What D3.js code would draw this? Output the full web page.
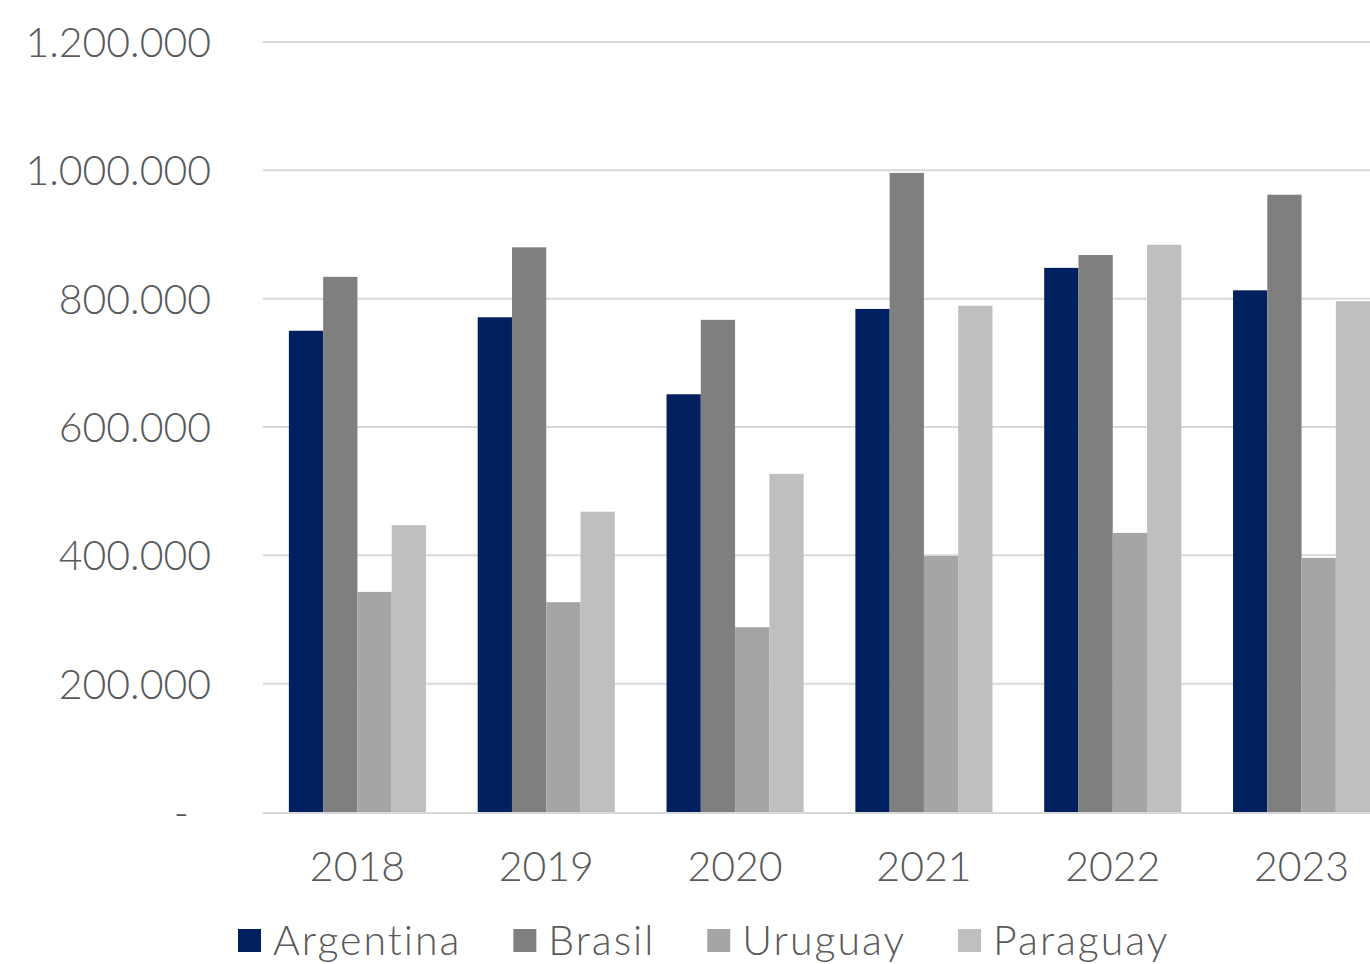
<!DOCTYPE html>
<html><head><meta charset="utf-8">
<script src="https://cdn.jsdelivr.net/npm/d3@7"></script>
<style>
html,body{margin:0;padding:0;background:#fff;overflow:hidden}
text{font-family:"Century Gothic",Lato,"Open Sans",sans-serif;fill:#595959}
</style></head><body>
<svg id="c" width="1370" height="964"></svg>
<script>
const years = ["2018","2019","2020","2021","2022","2023"];
const seriesNames = ["Argentina","Brasil","Uruguay","Paraguay"];
const colors = ["#002060","#7f7f7f","#a5a5a5","#bfbfbf"];
const argentina = [750000,771000,651000,784000,848000,813000];
const brasil = [834000,880000,767000,996000,868000,962000];
const uruguay = [343000,327000,288000,399000,435000,396000];
const paraguay = [447000,468000,527000,789000,884000,796000];
const yTicks = [0,200000,400000,600000,800000,1000000,1200000];
const seriesValues = [argentina,brasil,uruguay,paraguay];

const svg = d3.select("#c");
const fmt = v => v===0 ? "-" : d3.format(",")(v).replace(/,/g,".");
const y = d3.scaleLinear().domain([0,1200000]).range([812,42]);
const x0 = d3.scaleBand().domain(years).range([263,1396]).paddingInner(0.274).paddingOuter(0.137);
const x1 = d3.scaleBand().domain(seriesNames).range([0,x0.bandwidth()]);

// gridlines
svg.append("g").selectAll("line").data(yTicks.filter(d=>d>0)).join("line")
  .attr("x1",263).attr("x2",1370).attr("y1",d=>y(d)).attr("y2",d=>y(d))
  .attr("stroke","#d9d9d9").attr("stroke-width",2);

// y labels
const yAxis = d3.axisLeft(y).tickValues(yTicks).tickFormat(fmt).tickSize(0).tickPadding(0);
const ya = svg.append("g").attr("transform","translate(211,0)").call(yAxis);
ya.select(".domain").remove();
ya.selectAll("text").attr("font-size",41).attr("font-weight",300).style("font-family",'"Century Gothic",Lato,sans-serif').attr("fill","#595959").attr("dy","0.35em");
ya.selectAll(".tick").filter(d=>d===0).select("text").attr("x",-22);

// bars
const groups = svg.append("g").selectAll("g").data(years).join("g")
  .attr("transform",d=>`translate(${x0(d)},0)`);
groups.selectAll("rect").data((d,i)=>seriesNames.map((s,j)=>({s,v:seriesValues[j][i],c:colors[j]})))
  .join("rect")
  .attr("x",d=>x1(d.s)).attr("width",x1.bandwidth())
  .attr("y",d=>y(d.v)).attr("height",d=>y(0)-y(d.v))
  .attr("fill",d=>d.c);

// baseline
svg.append("line").attr("x1",263).attr("x2",1370).attr("y1",y(0)+1).attr("y2",y(0)+1)
  .attr("stroke","#d9d9d9").attr("stroke-width",2);

// x axis labels
const xAxis = d3.axisBottom(x0).tickSize(0).tickPadding(0);
const xa = svg.append("g").attr("transform","translate(0,867)").call(xAxis);
xa.select(".domain").remove();
xa.selectAll("text").attr("font-size",41).attr("font-weight",300).style("font-family",'"Century Gothic",Lato,sans-serif').attr("fill","#595959").attr("dy","0.35em").attr("y",0);

// legend
const leg = svg.append("g");
let lx = 238;
seriesNames.forEach((s,i)=>{
  leg.append("rect").attr("x",lx).attr("y",929).attr("width",23).attr("height",23).attr("fill",colors[i]);
  const t = leg.append("text").attr("x",lx+35).attr("y",955).attr("font-size",41).attr("font-weight",300)
    .style("letter-spacing","2px").text(s);
  const w = t.node().getComputedTextLength();
  lx = lx + 35 + w + 52;
});
</script>
</body></html>
